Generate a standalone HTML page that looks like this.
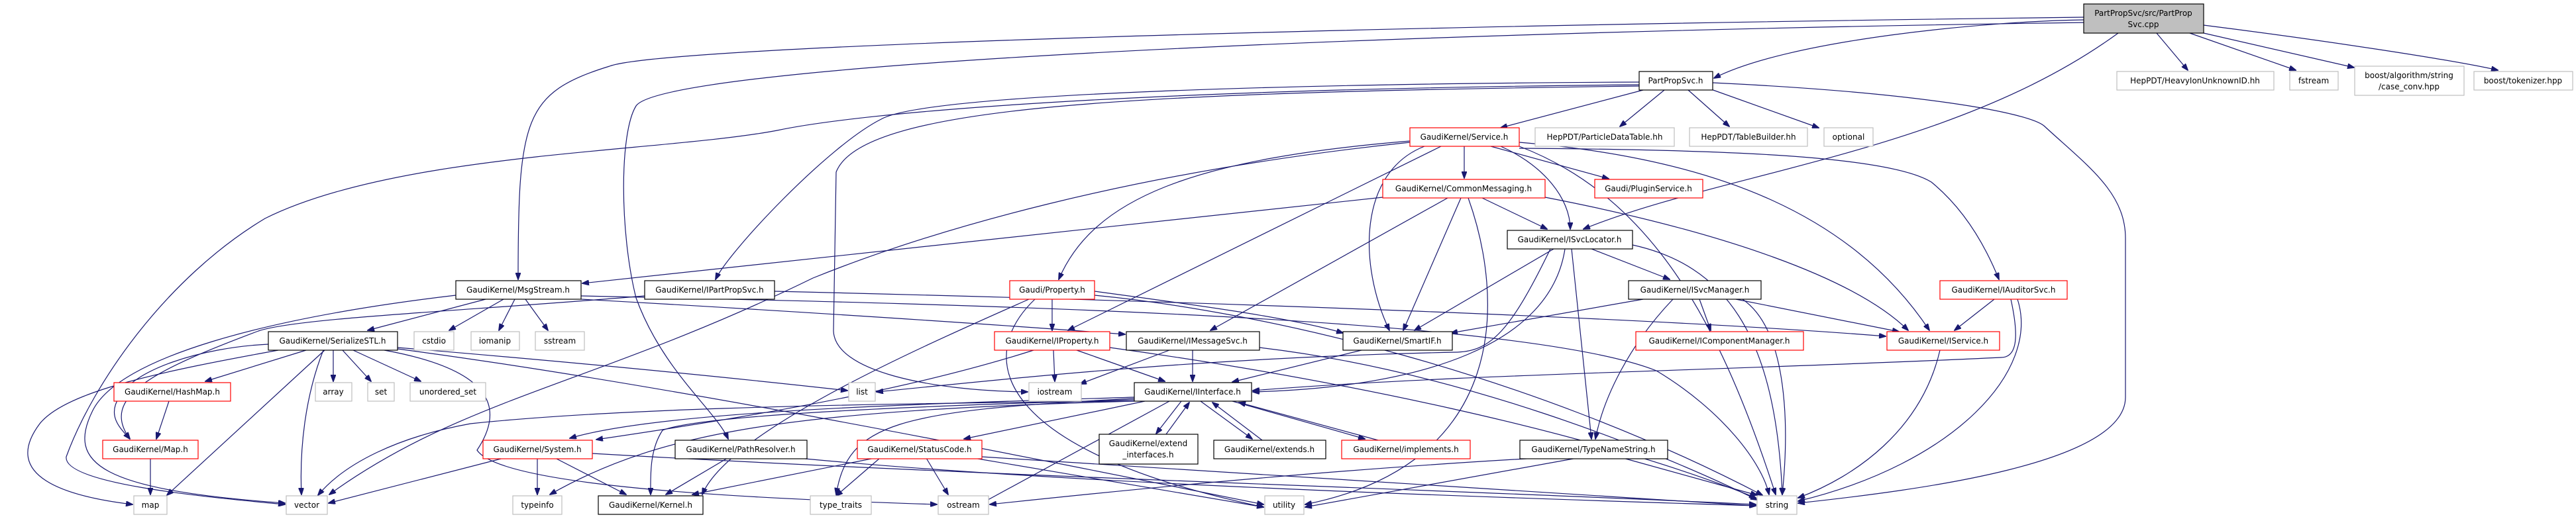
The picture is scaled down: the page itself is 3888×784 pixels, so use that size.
<!DOCTYPE html>
<html><head><meta charset="utf-8"><style>
html,body{margin:0;padding:0;background:#fff;}
svg{display:block;}
text{font-family:"DejaVu Sans","Liberation Sans",sans-serif;font-size:12px;fill:#000;}
.e{fill:none;stroke:#191970;stroke-width:1.2;}
.b{fill:#fff;stroke:#000;stroke-width:1.2;}
.g{fill:#fff;stroke:#bfbfbf;stroke-width:1.2;}
.r{fill:#fff;stroke:#ff0000;stroke-width:1.2;}
</style></head><body>
<svg width="3888" height="784" viewBox="0 0 3888 784" xmlns="http://www.w3.org/2000/svg">
<defs><marker id="a" markerWidth="11" markerHeight="8" refX="10" refY="4" orient="auto" markerUnits="userSpaceOnUse"><path d="M0,0 L11,4 L0,8 z" fill="#191970" stroke="#191970"/></marker></defs>
<g class="e" marker-end="url(#a)">
<path d="M3145,30 C3000,32 2700,60 2587,118"/>
<path d="M3255,50 L3302,106"/>
<path d="M3305,50 L3465,106"/>
<path d="M3326,50 L3553,102"/>
<path d="M3326,38 C3500,60 3700,90 3770,106"/>
<path d="M3197,50 C2950,230 2600,260 2390,346"/>
<path d="M3145,26 C2000,40 1000,70 920,100 C790,140 782,180 782,422"/>
<path d="M3145,34 C2000,50 1000,100 960,160 C935,200 935,350 960,450 C1000,560 1080,620 1099,663"/>
<path d="M2480,136 L2265,193"/>
<path d="M2512,136 L2445,191"/>
<path d="M2548,136 L2610,191"/>
<path d="M2580,134 L2745,193"/>
<path d="M2585,125 C2900,140 3060,170 3085,190 C3150,250 3208,290 3208,360 L3208,600 C3208,700 2900,740 2714,760"/>
<path d="M2474,124 C2000,126 1400,140 1330,180 C1250,220 1100,380 1080,422"/>
<path d="M2474,128 C1700,135 1300,170 1173,197 C1000,230 600,230 400,330 C250,420 140,580 100,690 C95,730 300,750 430,762"/>
<path d="M2474,130 C1700,140 1300,160 1262,260 L1258,500 C1260,560 1400,590 1551,592"/>
<path d="M2210,221 L2210,269"/>
<path d="M2250,221 L2428,270"/>
<path d="M2265,221 C2330,250 2370,300 2370,346"/>
<path d="M2150,221 C2050,260 2050,400 2097,499"/>
<path d="M2175,221 L1612,499"/>
<path d="M2128,213 C1800,240 1650,300 1598,422"/>
<path d="M2293,215 C2600,240 2800,330 2912,499"/>
<path d="M2293,224 C2600,226 2850,235 2915,275 C2970,320 3000,380 3017,422"/>
<path d="M2128,215 C1700,260 1400,350 1227,420 C900,580 700,600 497,747"/>
<path d="M2293,221 C2500,300 2600,500 2680,747"/>
<path d="M2087,298 L879,428"/>
<path d="M2237,299 L2335,346"/>
<path d="M2205,299 L2118,499"/>
<path d="M2185,299 L1827,499"/>
<path d="M2216,299 C2270,450 2280,700 1970,762"/>
<path d="M2332,298 C2600,350 2800,420 2880,499"/>
<path d="M2345,376 L2135,499"/>
<path d="M2402,376 L2520,422"/>
<path d="M2372,376 L2402,663"/>
<path d="M2362,376 C2340,520 2150,585 1891,592"/>
<path d="M2340,376 C2280,500 2250,530 2200,532 C1800,540 1500,575 1323,592"/>
<path d="M2464,370 C2600,400 2680,500 2690,747"/>
<path d="M2480,452 L2190,503"/>
<path d="M2565,452 L2582,499"/>
<path d="M2620,452 L2866,501"/>
<path d="M2525,452 C2460,520 2420,600 2408,663"/>
<path d="M2630,452 C2700,500 2700,650 2690,747"/>
<path d="M3010,452 L2950,499"/>
<path d="M3035,452 C3050,520 3040,540 3020,540 C2600,560 2200,565 1891,590"/>
<path d="M3045,452 C3080,560 2950,700 2714,757"/>
<path d="M2928,529 C2900,650 2800,720 2714,752"/>
<path d="M1169,440 C1800,455 2500,480 2846,508"/>
<path d="M973,447 C700,470 450,480 390,500 C230,560 150,600 196,663"/>
<path d="M733,452 L555,499"/>
<path d="M760,452 L678,499"/>
<path d="M777,452 L753,499"/>
<path d="M793,452 L827,499"/>
<path d="M877,452 C1200,470 1500,490 1698,505"/>
<path d="M877,447 C1500,460 2300,480 2500,560 C2600,620 2660,700 2670,747"/>
<path d="M688,446 C400,480 180,540 140,620 C100,700 150,740 430,760"/>
<path d="M462,529 L310,576"/>
<path d="M405,520 C300,525 200,560 180,600 C160,630 185,650 196,663"/>
<path d="M503,529 L503,576"/>
<path d="M517,529 L560,576"/>
<path d="M533,529 L635,576"/>
<path d="M420,529 C250,560 100,590 60,640 C0,720 100,750 200,762"/>
<path d="M490,529 L252,748"/>
<path d="M488,529 C460,600 452,680 455,747"/>
<path d="M600,525 C900,550 1100,570 1279,590"/>
<path d="M600,527 C1000,580 1500,680 1907,762"/>
<path d="M580,529 C750,560 760,620 720,680 C760,740 1200,755 1414,762"/>
<path d="M255,606 L236,663"/>
<path d="M227,693 L227,747"/>
<path d="M760,692 L496,760"/>
<path d="M811,692 L811,747"/>
<path d="M838,692 L945,747"/>
<path d="M894,685 C1500,720 2200,740 2650,762"/>
<path d="M1098,692 L1005,747"/>
<path d="M1205,692 C1600,730 2200,750 2650,764"/>
<path d="M1712,600 C1400,610 1000,620 860,662"/>
<path d="M1728,606 L1455,663"/>
<path d="M1783,606 L1745,655"/>
<path d="M1760,656 L1795,608"/>
<path d="M1812,606 L1890,663"/>
<path d="M1905,665 L1830,608"/>
<path d="M1860,606 L2060,663"/>
<path d="M2080,665 L1870,608"/>
<path d="M1712,604 C1300,615 1050,630 1000,650 C980,680 982,720 982,747"/>
<path d="M1712,606 C1200,620 1000,650 830,747"/>
<path d="M1765,606 L1482,760"/>
<path d="M1712,602 C1350,620 1280,640 1262,747"/>
<path d="M1712,606 C1200,610 900,620 710,640 C600,660 520,700 480,748"/>
<path d="M1625,529 L1758,576"/>
<path d="M1590,529 L1592,576"/>
<path d="M1675,525 C2000,570 2400,650 2650,752"/>
<path d="M1560,529 C1400,580 1200,620 900,664"/>
<path d="M1800,529 L1800,576"/>
<path d="M1765,529 L1630,580"/>
<path d="M1901,525 C2200,560 2500,680 2652,755"/>
<path d="M2055,529 L1860,577"/>
<path d="M1588,452 L1588,499"/>
<path d="M1652,440 C1800,460 1950,480 2027,503"/>
<path d="M1652,446 C1900,470 2300,560 2660,748"/>
<path d="M1562,452 C1470,540 1500,680 1907,766"/>
<path d="M1553,452 C1400,520 1100,650 1060,747"/>
<path d="M1398,692 L1431,747"/>
<path d="M1328,692 L1262,749"/>
<path d="M1320,692 L1045,747"/>
<path d="M1470,692 L1907,766"/>
<path d="M1482,690 C2000,720 2400,750 2650,764"/>
<path d="M2450,692 L2652,748"/>
<path d="M2320,692 C2000,710 1700,740 1494,762"/>
<path d="M2380,692 L1970,766"/>
</g>
<g text-anchor="middle">
<rect x="3145" y="6" width="181" height="44" fill="#bfbfbf" stroke="#000" stroke-width="1.2"/>
<text x="3235" y="24">PartPropSvc/src/PartProp</text><text x="3235" y="41">Svc.cpp</text>
<rect class="g" x="3195" y="108" width="237" height="28"/><text x="3313" y="126">HepPDT/HeavyIonUnknownID.hh</text>
<rect class="g" x="3456" y="108" width="73" height="28"/><text x="3492" y="126">fstream</text>
<rect class="g" x="3554" y="100" width="165" height="44"/><text x="3636" y="118">boost/algorithm/string</text><text x="3636" y="135">/case_conv.hpp</text>
<rect class="g" x="3734" y="108" width="149" height="28"/><text x="3808" y="126">boost/tokenizer.hpp</text>
<rect class="b" x="2474" y="108" width="111" height="28"/><text x="2529" y="126">PartPropSvc.h</text>
<rect class="r" x="2128" y="193" width="165" height="28"/><text x="2210" y="211">GaudiKernel/Service.h</text>
<rect class="g" x="2317" y="193" width="210" height="28"/><text x="2422" y="211">HepPDT/ParticleDataTable.hh</text>
<rect class="g" x="2550" y="193" width="178" height="28"/><text x="2639" y="211">HepPDT/TableBuilder.hh</text>
<rect class="g" x="2753" y="193" width="74" height="28"/><text x="2790" y="211">optional</text>
<rect class="r" x="2087" y="271" width="245" height="28"/><text x="2209" y="289">GaudiKernel/CommonMessaging.h</text>
<rect class="r" x="2407" y="271" width="163" height="28"/><text x="2488" y="289">Gaudi/PluginService.h</text>
<rect class="b" x="2275" y="348" width="189" height="28"/><text x="2369" y="366">GaudiKernel/ISvcLocator.h</text>
<rect class="b" x="688" y="424" width="189" height="28"/><text x="782" y="442">GaudiKernel/MsgStream.h</text>
<rect class="b" x="973" y="424" width="196" height="28"/><text x="1071" y="442">GaudiKernel/IPartPropSvc.h</text>
<rect class="r" x="1524" y="424" width="128" height="28"/><text x="1588" y="442">Gaudi/Property.h</text>
<rect class="b" x="2458" y="424" width="200" height="28"/><text x="2558" y="442">GaudiKernel/ISvcManager.h</text>
<rect class="r" x="2928" y="424" width="192" height="28"/><text x="3024" y="442">GaudiKernel/IAuditorSvc.h</text>
<rect class="b" x="405" y="501" width="195" height="28"/><text x="502" y="519">GaudiKernel/SerializeSTL.h</text>
<rect class="g" x="625" y="501" width="60" height="28"/><text x="655" y="519">cstdio</text>
<rect class="g" x="711" y="501" width="73" height="28"/><text x="747" y="519">iomanip</text>
<rect class="g" x="808" y="501" width="74" height="28"/><text x="845" y="519">sstream</text>
<rect class="r" x="1501" y="501" width="174" height="28"/><text x="1588" y="519">GaudiKernel/IProperty.h</text>
<rect class="b" x="1700" y="501" width="201" height="28"/><text x="1800" y="519">GaudiKernel/IMessageSvc.h</text>
<rect class="b" x="2027" y="501" width="165" height="28"/><text x="2109" y="519">GaudiKernel/SmartIF.h</text>
<rect class="r" x="2469" y="501" width="253" height="28"/><text x="2595" y="519">GaudiKernel/IComponentManager.h</text>
<rect class="r" x="2848" y="501" width="170" height="28"/><text x="2933" y="519">GaudiKernel/IService.h</text>
<rect class="r" x="172" y="578" width="176" height="28"/><text x="260" y="596">GaudiKernel/HashMap.h</text>
<rect class="g" x="476" y="578" width="55" height="28"/><text x="503" y="596">array</text>
<rect class="g" x="555" y="578" width="40" height="28"/><text x="575" y="596">set</text>
<rect class="g" x="619" y="578" width="114" height="28"/><text x="676" y="596">unordered_set</text>
<rect class="g" x="1281" y="578" width="40" height="28"/><text x="1301" y="596">list</text>
<rect class="g" x="1553" y="578" width="79" height="28"/><text x="1592" y="596">iostream</text>
<rect class="b" x="1712" y="578" width="177" height="28"/><text x="1800" y="596">GaudiKernel/IInterface.h</text>
<rect class="r" x="155" y="665" width="144" height="28"/><text x="227" y="683">GaudiKernel/Map.h</text>
<rect class="r" x="729" y="665" width="165" height="28"/><text x="811" y="683">GaudiKernel/System.h</text>
<rect class="b" x="1019" y="665" width="199" height="28"/><text x="1118" y="683">GaudiKernel/PathResolver.h</text>
<rect class="r" x="1294" y="665" width="188" height="28"/><text x="1388" y="683">GaudiKernel/StatusCode.h</text>
<rect class="b" x="1659" y="656" width="149" height="45"/><text x="1733" y="674">GaudiKernel/extend</text><text x="1733" y="691">_interfaces.h</text>
<rect class="b" x="1832" y="665" width="169" height="28"/><text x="1916" y="683">GaudiKernel/extends.h</text>
<rect class="r" x="2025" y="665" width="194" height="28"/><text x="2122" y="683">GaudiKernel/implements.h</text>
<rect class="b" x="2294" y="665" width="223" height="28"/><text x="2405" y="683">GaudiKernel/TypeNameString.h</text>
<rect class="g" x="202" y="749" width="50" height="28"/><text x="227" y="767">map</text>
<rect class="g" x="432" y="749" width="62" height="28"/><text x="463" y="767">vector</text>
<rect class="g" x="774" y="749" width="74" height="28"/><text x="811" y="767">typeinfo</text>
<rect class="b" x="903" y="749" width="158" height="28"/><text x="982" y="767">GaudiKernel/Kernel.h</text>
<rect class="g" x="1223" y="749" width="92" height="28"/><text x="1269" y="767">type_traits</text>
<rect class="g" x="1416" y="749" width="76" height="28"/><text x="1454" y="767">ostream</text>
<rect class="g" x="1909" y="749" width="59" height="28"/><text x="1938" y="767">utility</text>
<rect class="g" x="2652" y="749" width="60" height="28"/><text x="2682" y="767">string</text>
</g>
</svg>
</body></html>
